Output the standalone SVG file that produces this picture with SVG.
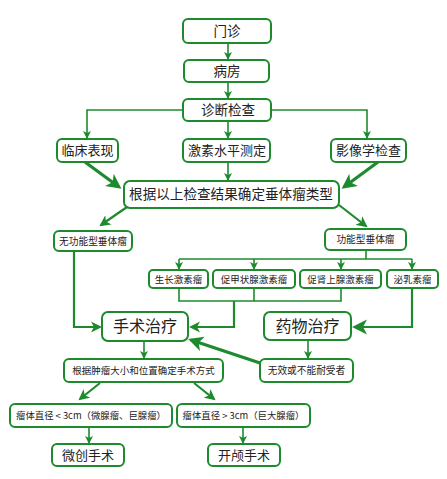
<svg xmlns="http://www.w3.org/2000/svg" width="447" height="479" viewBox="0 0 447 479">
<style>
.box{fill:#fff;stroke:#1e8a2e;stroke-width:2}
.t{font-family:"Noto Sans CJK SC","Noto Sans",sans-serif;fill:#222;text-anchor:middle}
.ln{fill:none;stroke:#1e8a2e;stroke-width:1.6}
.md{fill:none;stroke:#1e8a2e;stroke-width:2.2}
.tk{fill:none;stroke:#1e8a2e;stroke-width:3.2}
</style>
<defs>
<marker id="a" markerUnits="userSpaceOnUse" markerWidth="9" markerHeight="9" refX="7" refY="4" orient="auto" viewBox="0 0 9 8">
<path d="M0,0 L8,4 L0,8 L2,4 z" fill="#1e8a2e"/>
</marker>
<marker id="am" markerUnits="userSpaceOnUse" markerWidth="12" markerHeight="12" refX="9" refY="5.5" orient="auto" viewBox="0 0 12 11">
<path d="M0,0 L11,5.5 L0,11 L3,5.5 z" fill="#1e8a2e"/>
</marker>
<marker id="ak" markerUnits="userSpaceOnUse" markerWidth="16" markerHeight="16" refX="12" refY="7.5" orient="auto" viewBox="0 0 16 15">
<path d="M0,0 L15,7.5 L0,15 L4,7.5 z" fill="#1e8a2e"/>
</marker>
</defs>
<rect width="447" height="479" fill="#fff"/>
<g id="connectors">
<path class="ln" d="M228,43 V59" marker-end="url(#a)"/>
<path class="ln" d="M228,82 V98" marker-end="url(#a)"/>
<path class="ln" d="M183,110 H87 V138" marker-end="url(#a)"/>
<path class="ln" d="M228,121 V138" marker-end="url(#a)"/>
<path class="ln" d="M271,110 H367 V138" marker-end="url(#a)"/>
<path class="ln" d="M228,162 V180" marker-end="url(#a)"/>
<path class="tk" d="M85,162 L119,187" marker-end="url(#ak)"/>
<path class="tk" d="M378,162 L344,187" marker-end="url(#ak)"/>
<path class="md" d="M127,207 L101,225" marker-end="url(#am)"/>
<path class="md" d="M339,205 L366,226" marker-end="url(#am)"/>
<path class="ln" d="M366,250 V259 M179,259 H412"/>
<path class="ln" d="M179,259 V269" marker-end="url(#a)"/>
<path class="ln" d="M254,259 V269" marker-end="url(#a)"/>
<path class="ln" d="M341,259 V269" marker-end="url(#a)"/>
<path class="ln" d="M412,259 V269" marker-end="url(#a)"/>
<path class="ln" d="M179,288 V301 H341 V288 M254,288 V301"/>
<path class="md" d="M234,301 V327 H191" marker-end="url(#am)"/>
<path class="md" d="M74,251 V327 H100" marker-end="url(#am)"/>
<path class="md" d="M412,288 V327 H355" marker-end="url(#ak)"/>
<path class="ln" d="M308,340 V358" marker-end="url(#a)"/>
<path class="tk" d="M260,363 L191,340" marker-end="url(#ak)"/>
<path class="ln" d="M144,341 V358" marker-end="url(#a)"/>
<path class="md" d="M100,383 L80,399" marker-end="url(#am)"/>
<path class="md" d="M194,383 L214,399" marker-end="url(#am)"/>
<path class="ln" d="M89,427 V443" marker-end="url(#a)"/>
<path class="ln" d="M243,427 V443" marker-end="url(#a)"/>
</g>
<g id="menzhen"><rect class="box" x="183" y="19" width="88" height="24" rx="5"/><text class="t" x="227" y="36" font-size="13.5">门诊</text></g>
<g id="bingfang"><rect class="box" x="184" y="60" width="85" height="22" rx="5"/><text class="t" x="227" y="76" font-size="13.5">病房</text></g>
<g id="zhenduan"><rect class="box" x="183" y="99" width="88" height="22" rx="5"/><text class="t" x="228" y="115" font-size="13.5">诊断检查</text></g>
<g id="linchuang"><rect class="box" x="57" y="139" width="61" height="23" rx="5"/><text class="t" x="87.5" y="155" font-size="13">临床表现</text></g>
<g id="jisu"><rect class="box" x="183" y="139" width="87" height="23" rx="5"/><text class="t" x="227" y="155" font-size="13">激素水平测定</text></g>
<g id="yingxiang"><rect class="box" x="331" y="139" width="75" height="23" rx="5"/><text class="t" x="368.5" y="155" font-size="13">影像学检查</text></g>
<g id="genju"><rect class="box" x="124" y="181" width="215" height="27" rx="6"/><text class="t" x="231" y="199" font-size="13.6">根据以上检查结果确定垂体瘤类型</text></g>
<g id="wugongneng"><rect class="box" x="54" y="231" width="78" height="20" rx="5"/><text class="t" x="93" y="244.5" font-size="9.7">无功能型垂体瘤</text></g>
<g id="gongneng"><rect class="box" x="325" y="229" width="81" height="21" rx="5"/><text class="t" x="365.5" y="243" font-size="9.7">功能型垂体瘤</text></g>
<g id="shengzhang"><rect class="box" x="149" y="270" width="59" height="18" rx="4"/><text class="t" x="178.5" y="282.5" font-size="9.5">生长激素瘤</text></g>
<g id="cujiazhuang"><rect class="box" x="213" y="270" width="82" height="18" rx="4"/><text class="t" x="254" y="282.5" font-size="9.5">促甲状腺激素瘤</text></g>
<g id="cushen"><rect class="box" x="300" y="270" width="81" height="18" rx="4"/><text class="t" x="340.5" y="282.5" font-size="9.5">促肾上腺激素瘤</text></g>
<g id="miru"><rect class="box" x="387" y="270" width="51" height="18" rx="4"/><text class="t" x="412.5" y="282.5" font-size="9.5">泌乳素瘤</text></g>
<g id="shoushu"><rect class="box" x="102" y="312" width="86" height="29" rx="6"/><text class="t" x="145" y="332" font-size="16">手术治疗</text></g>
<g id="yaowu"><rect class="box" x="264" y="312" width="87" height="28" rx="6"/><text class="t" x="307.5" y="331.5" font-size="16">药物治疗</text></g>
<g id="genjuzhongliu"><rect class="box" x="64" y="359" width="159" height="23" rx="5"/><text class="t" x="143.5" y="374" font-size="9.5">根据肿瘤大小和位置确定手术方式</text></g>
<g id="wuxiao"><rect class="box" x="260" y="359" width="93" height="23" rx="5"/><text class="t" x="306.5" y="374" font-size="9.7">无效或不能耐受者</text></g>
<g id="xiaoyu"><rect class="box" x="10" y="404" width="162" height="23" rx="5"/><text class="t" x="91" y="419" font-size="9.4">瘤体直径 &lt; 3cm（微腺瘤、巨腺瘤）</text></g>
<g id="dayu"><rect class="box" x="177" y="404" width="133" height="23" rx="5"/><text class="t" x="243.5" y="419" font-size="9.4">瘤体直径 &gt; 3cm（巨大腺瘤）</text></g>
<g id="weichuang"><rect class="box" x="52" y="444" width="72" height="22" rx="5"/><text class="t" x="88" y="460" font-size="13">微创手术</text></g>
<g id="kailu"><rect class="box" x="208" y="444" width="72" height="22" rx="5"/><text class="t" x="244" y="460" font-size="13">开颅手术</text></g>
</svg>
